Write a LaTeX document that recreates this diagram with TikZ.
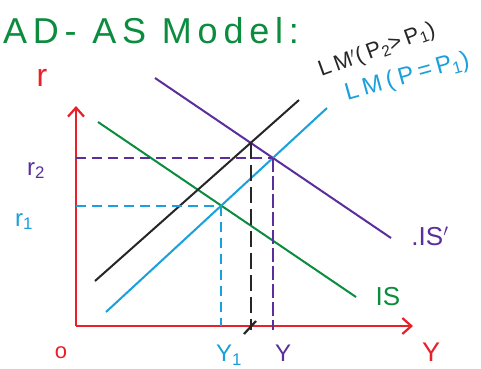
\documentclass[tikz,border=0pt]{standalone}
\usepackage{fontspec}
\setmainfont{Liberation Sans}
\newfontfamily\hand[LetterSpace=16]{Liberation Sans}
\newfontfamily\handB[LetterSpace=19]{Liberation Sans}
\usetikzlibrary{arrows.meta,calc}
\definecolor{cgreen}{HTML}{0B8C3E}
\definecolor{cred}{HTML}{E8202A}
\definecolor{cpurple}{HTML}{5A2E9C}
\definecolor{cblue}{HTML}{1AA0DA}
\definecolor{cblack}{HTML}{262626}
\begin{document}
\begin{tikzpicture}[x=1pt,y=-1pt,
  curve/.style={line width=2pt},
  axis/.style={line width=2.2pt,draw=cred,-{Straight Barb[length=9pt,width=16pt,line width=2.2pt]}},
  guide/.style={line width=1.8pt,dash pattern=on 10pt off 6pt},
  lab/.style={inner sep=0pt,font=\fontsize{24}{26}\selectfont}]
\useasboundingbox (0,0) rectangle (481,368);
\fill[white] (0,0) rectangle (481,368);
% title
\node[lab,text=cgreen,anchor=west,font=\hand\fontsize{36}{38}\selectfont] (title) at (3,31) {AD- AS Model:};
% axes
\coordinate (O) at (76,326);
\coordinate (YT) at (76,106);
\coordinate (XR) at (413,326);
\draw[axis] (O) -- (YT);
\draw[axis] (O) -- (XR);
% curves
\coordinate (G1) at (98,122);  \coordinate (G2) at (356,297);
\coordinate (P1) at (155,78);  \coordinate (P2) at (391,238);
\coordinate (K1) at (95,281);  \coordinate (K2) at (299,100);
\coordinate (B1) at (106,312); \coordinate (B2) at (327,108);
\draw[curve,draw=cgreen] (G1) -- (G2);
\draw[curve,draw=cpurple] (P1) -- (P2);
\draw[curve,draw=cblack] (K1) -- (K2);
\draw[curve,draw=cblue] (B1) -- (B2);
% equilibria
\coordinate (E1) at (intersection of G1--G2 and B1--B2);
\coordinate (E2) at (intersection of P1--P2 and B1--B2);
\coordinate (E3) at (intersection of P1--P2 and K1--K2);
\coordinate (E1y) at (O -| E1); \coordinate (E1x) at (O |- E1);
\coordinate (E2x) at (O |- E2);
\coordinate (E3y) at ($(O -| E3)+(0,4)$);
\coordinate (E2y) at ($(O -| E2)+(0,4)$);
\draw[guide,draw=cblue] (E1x) -- (E1);
\draw[guide,draw=cblue] (E1) -- (E1y);
\draw[guide,draw=cpurple] (E2x) -- (E2);
\draw[guide,draw=cpurple,dash pattern=on 14pt off 4pt] (E2) -- (E2y);
\draw[guide,draw=cblack,dash pattern=on 16pt off 6pt] (E3) -- (E3y);
\coordinate (T1) at (244,334); \coordinate (T2) at (256,321);
\draw[line width=2.2pt,draw=cblack] (T1) -- (T2);
% labels
\node[lab,text=cred,font=\fontsize{32}{34}\selectfont] (rlab) at (42,78) {r};
\node[lab,text=cpurple,anchor=base west] (r2) at (27,175) {r\textsubscript{2}};
\node[lab,text=cblue,anchor=base west] (r1) at (15,226) {r\textsubscript{1}};
\node[lab,text=cred,font=\fontsize{22}{24}\selectfont] (zero) at (61,353) {o};
\node[lab,text=cblue,anchor=north] (y1) at (229,345) {Y\textsubscript{1}};
\node[lab,text=cpurple,anchor=north] (y2) at (283,345) {Y};
\node[lab,text=cred,anchor=north,font=\fontsize{27}{29}\selectfont] (ylab) at (431,343) {Y};
\node[lab,text=cgreen,font=\fontsize{26}{28}\selectfont] (is) at (388,297) {IS};
\node[lab,text=cpurple,font=\fontsize{26}{28}\selectfont] (isp) at (430,236) {.IS$'$};
\node[lab,text=cblack,rotate=20,anchor=base,font=\handB\fontsize{22}{24}\selectfont] (lmp) at (379,56) {LM$'$(P\textsubscript{2}>P\textsubscript{1})};
\node[lab,text=cblue,rotate=15.5,anchor=base,font=\handB\fontsize{24}{26}\selectfont] (lm) at (409,83) {LM(P=P\textsubscript{1})};
\end{tikzpicture}
\end{document}
